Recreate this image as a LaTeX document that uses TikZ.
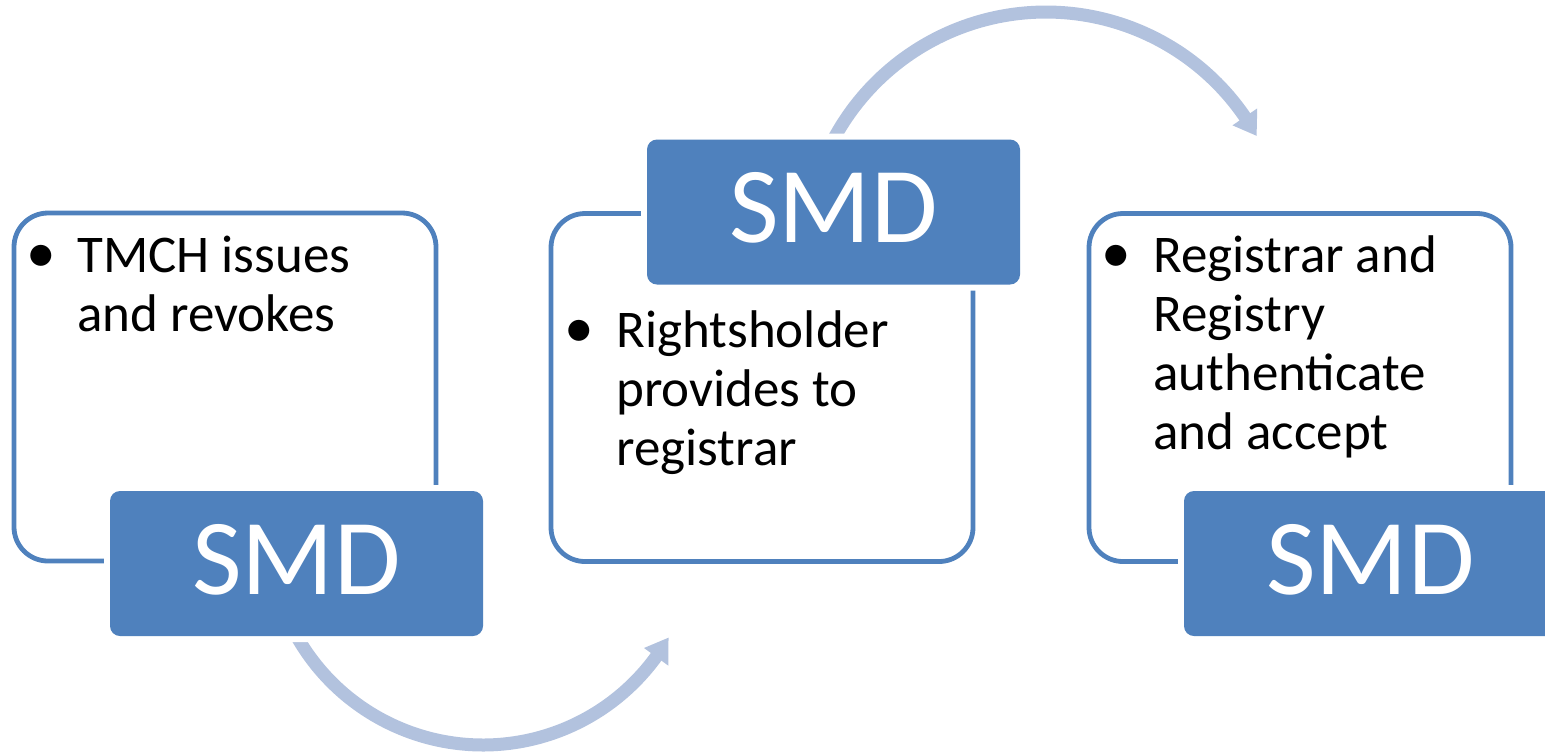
\documentclass[tikz,border=0pt]{standalone}
\usepackage{fontspec}
\setmainfont{Carlito}
\usetikzlibrary{calc}
\definecolor{smdblue}{HTML}{4F81BD}
\definecolor{arrowblue}{HTML}{B2C2DE}
\begin{document}
\begin{tikzpicture}[x=0.5pt,y=-0.5pt,
  cardbox/.style={draw=smdblue, line width=2.4pt, rounded corners=17pt,
    minimum width=211pt, minimum height=174pt, inner sep=0pt},
  smdbox/.style={fill=smdblue, rounded corners=5pt, minimum width=186.5pt,
    minimum height=72.5pt, inner sep=0pt, text=white,
    font=\fontsize{54}{60}\selectfont, text depth=4.5pt,
    preaction={draw=white, line width=6pt}},
  bullettext/.style={anchor=base west, inner sep=0pt,
    font=\fontsize{26.5}{29.5}\selectfont},
  flowarrow/.style={draw=arrowblue, line width=6.5pt},
  arrowtip/.style={fill=arrowblue, draw=none}
]
\useasboundingbox (0,0) rectangle (1545,752);
\clip (0,0) rectangle (1545,752);

% curved arrows
\coordinate (c1) at (483,531);
\coordinate (c2) at (1046,253);
\draw[flowarrow] plot[domain=156:35.5, samples=90] ({483+214*cos(\x)},{531+214*sin(\x)});
\fill[arrowtip] ($(c1)+(36:199)$) -- ($(c1)+(29.9:214)$) -- ($(c1)+(36:229)$) -- cycle;
\draw[flowarrow] plot[domain=-154.7:-34, samples=90] ({1046+241*cos(\x)},{253+241*sin(\x)});
\fill[arrowtip] ($(c2)+(-34.4:226)$) -- ($(c2)+(-29.1:241)$) -- ($(c2)+(-34.4:256)$) -- cycle;

% cards
\node[cardbox] (card1) at (225,387) {};
\node[cardbox] (card2) at (762,387.5) {};
\node[cardbox] (card3) at (1300,387.5) {};

% texts
\node[bullettext] (t1) at (77,272) {\vtop{\hbox{\llap{\makebox[0pt][c]{\scalebox{1.12}{•}}\hspace{18pt}}TMCH issues}\hbox{and revokes}}};
\node[bullettext] (t2) at (616,347) {\vtop{\hbox{\llap{\makebox[0pt][c]{\scalebox{1.12}{•}}\hspace{18.5pt}}Rightsholder}\hbox{provides to}\hbox{registrar}}};
\node[bullettext] (t3) at (1153,272) {\vtop{\hbox{\llap{\makebox[0pt][c]{\scalebox{1.12}{•}}\hspace{18.5pt}}Registrar and}\hbox{Registry}\hbox{authenticate}\hbox{and accept}}};

% SMD boxes
\node[smdbox] (smd1) at (296.5,563.5) {SMD};
\node[smdbox] (smd2) at (833.5,212) {SMD};
\node[smdbox] (smd3) at (1370.5,563.5) {SMD};
\end{tikzpicture}
\end{document}
